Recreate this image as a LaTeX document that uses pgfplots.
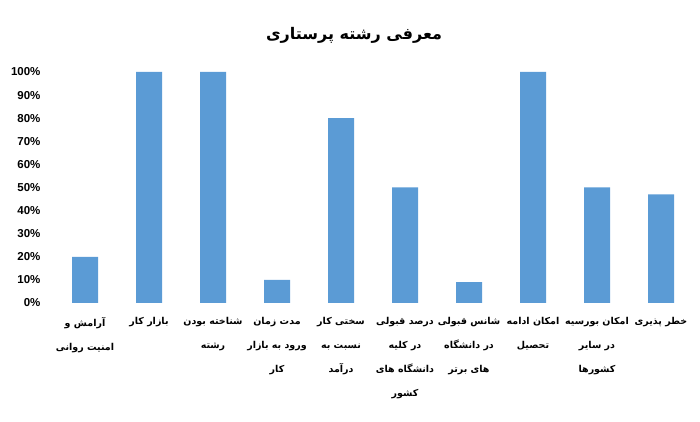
\documentclass[border=0pt]{standalone}
\usepackage{pgfplots}
\pgfplotsset{compat=1.18}
\usepackage{fontspec}
\setmainfont{Liberation Sans}
\newfontfamily\arabicfont[Script=Arabic]{DejaVu Sans}
\TeXXeTstate=1
\definecolor{barblue}{HTML}{5B9BD5}
\begin{document}
\begin{tikzpicture}
\useasboundingbox (0pt,0pt) rectangle (700pt,422pt);
\begin{axis}[
 at={(53pt,119pt)}, anchor=south west,
 scale only axis, width=640pt, height=231pt,
 xmin=-0.5, xmax=9.5, ymin=0, ymax=100,
 axis line style={draw=none}, tick style={draw=none},
 ytick={0,10,...,100},
 yticklabel={\pgfmathprintnumber{\tick}\%},
 yticklabel style={font=\fontsize{11.5}{13}\selectfont\bfseries, xshift=-9pt},
 xtick={0,...,9},
 xticklabels={
  {\beginR آرامش و\endR\\\beginR امنیت روانی\endR},
  {\beginR بازار کار\endR},
  {\beginR شناخته بودن\endR\\\beginR رشته\endR},
  {\beginR مدت زمان\endR\\\beginR ورود به بازار\endR\\\beginR کار\endR},
  {\beginR سختی کار\endR\\\beginR نسبت به\endR\\\beginR درآمد\endR},
  {\beginR درصد قبولی\endR\\\beginR در کلیه\endR\\\beginR دانشگاه های\endR\\\beginR کشور\endR},
  {\beginR شانس قبولی\endR\\\beginR در دانشگاه\endR\\\beginR های برتر\endR},
  {\beginR امکان ادامه\endR\\\beginR تحصیل\endR},
  {\beginR امکان بورسیه\endR\\\beginR در سایر\endR\\\beginR کشورها\endR},
  {\beginR خطر پذیری\endR}},
 xticklabel style={align=center, anchor=north, font=\arabicfont\bfseries\fontsize{9.5}{24}\selectfont, yshift=-11pt},
 /pgf/number format/assume math mode=true,
]
\addplot[ybar, bar width=26pt, fill=barblue, draw=none] coordinates {
 (0,20) (1,100) (2,100) (3,10) (4,80) (5,50) (6,9) (7,100) (8,50) (9,47)};
\end{axis}
\node[font=\arabicfont\bfseries\fontsize{16}{20}\selectfont] at (354pt,387pt) {\beginR معرفی رشته پرستاری\endR};
\end{tikzpicture}
\end{document}
